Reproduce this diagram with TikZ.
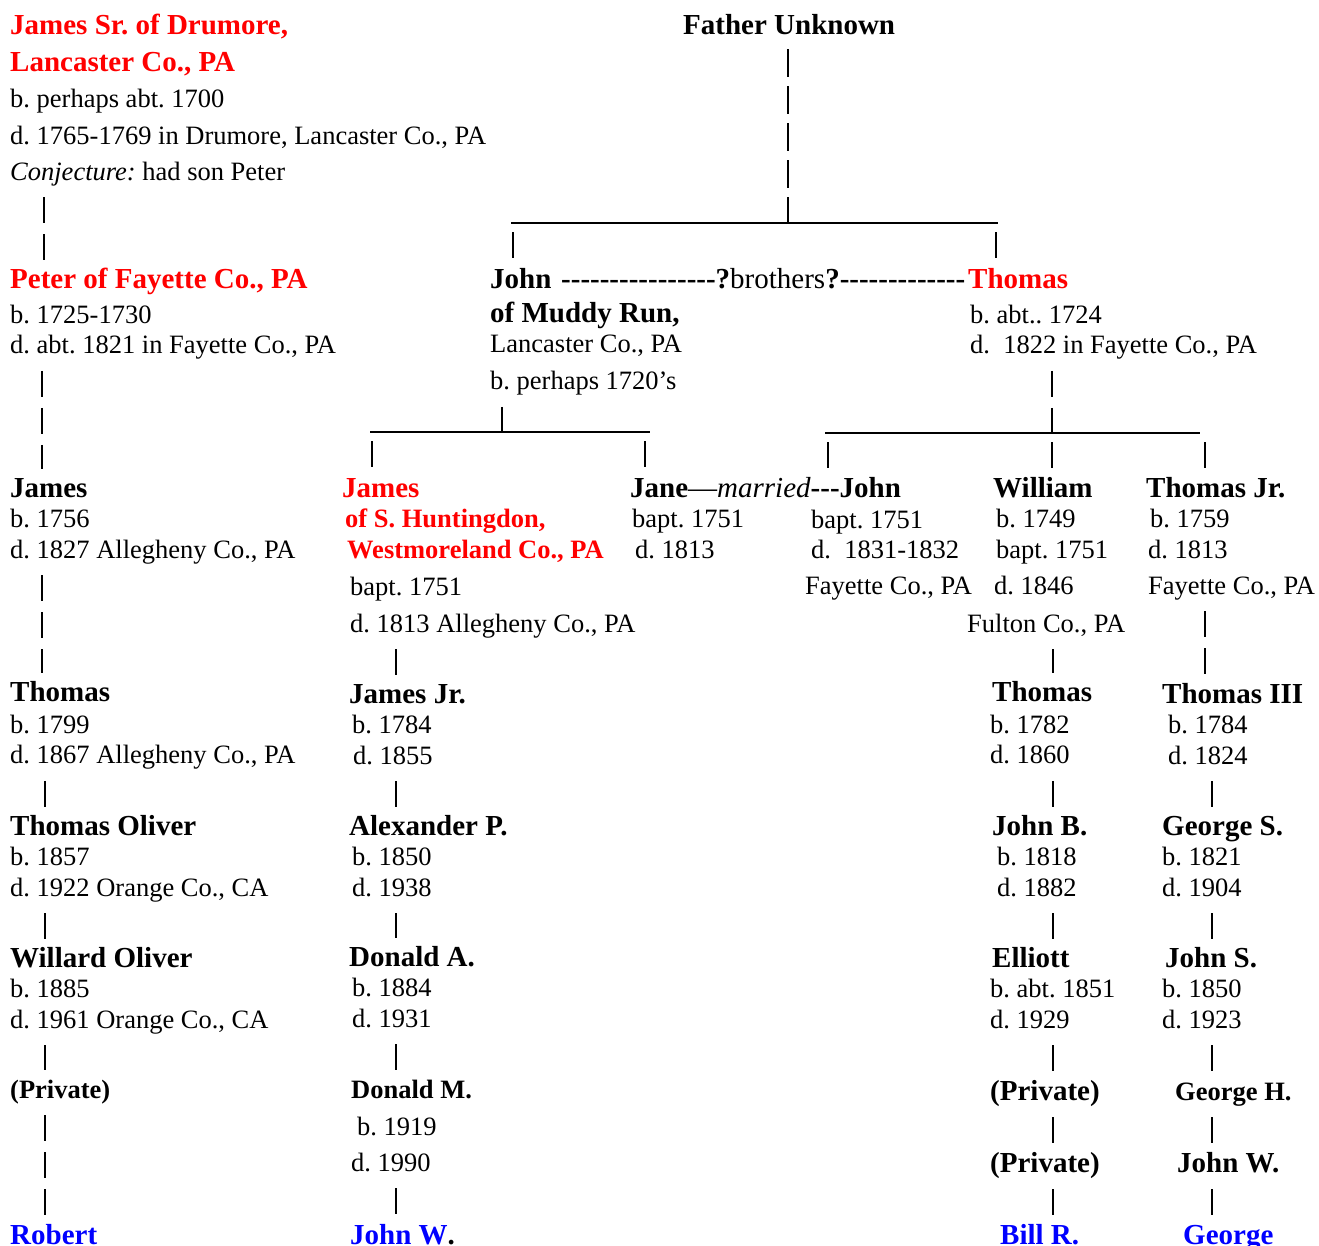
\documentclass[tikz,border=0pt]{standalone}
\usepackage{fontspec}
\setmainfont{Liberation Serif}
\frenchspacing

\newcommand\st{\vrule width 0pt height 21pt depth 8pt}
\newcommand\nm[1]{\st{\fontsize{29}{30.5}\selectfont\bfseries #1}}
\newcommand\nms[1]{\st{\bfseries #1}}
\newcommand\dashrun[1]{\foreach\k in {1,...,#1}{\mbox{-}}}

\tikzset{
  person/.style={anchor=north west, yshift=21pt, inner sep=0pt, align=left,
    font=\fontsize{26.5}{30.5}\selectfont},
  bars/.style={line width=1.6pt, dash pattern=on 26pt off 11pt,
    shorten <=9pt, shorten >=7pt},
  sibline/.style={line width=1.8pt}
}

\begin{document}
\begin{tikzpicture}[x=1pt,y=-1pt]
        \useasboundingbox (0,0) rectangle (1319,1245);

        % Step 1: the first generation
        \node[person] (jsr) at (10,34) {\nm{\color{red}James Sr. of Drumore,}\\[6.5pt]
          \nm{\color{red}Lancaster Co., PA}\\[5.5pt]
          b. perhaps abt. 1700\\[6.5pt]
          d. 1765-1769 in Drumore, Lancaster Co., PA\\[5.5pt]
          \textit{Conjecture:} had son Peter\st};
        \node[person] (fu) at (683,34) {\nm{Father Unknown}};

        % Step 2: Peter, John and Thomas
        \node[person] (peter) at (10,288) {\nm{\color{red}Peter of Fayette Co., PA}\\[4.5pt]
          b. 1725-1730\\
          d. abt. 1821 in Fayette Co., PA\st};
        \node[person] (john) at (490,288) {\nm{John}\\[3.5pt]
          \nm{of Muddy Run,}\\
          Lancaster Co., PA\\[6.5pt]
          b. perhaps 1720’s\st};
        \node[anchor=base west, inner sep=0pt, font=\fontsize{29}{30.5}\selectfont] (bro) at (561,288)
          {\textbf{\dashrun{16}?}brothers\textbf{?\dashrun{13}}};
        \node[person] (thomasT) at (968,288) {\nm{\color{red}Thomas}\\[4.5pt]
          \hspace*{2pt}b. abt.. 1724\\
          \hspace*{2pt}d.\ \ 1822 in Fayette Co., PA\st};

        % Step 3: the next generation
        \node[person] (jamesA) at (10,497) {\nm{James}\\
          b. 1756\\
          d. 1827 Allegheny Co., PA\st};
        \node[person] (jamesB) at (342,497) {\nm{\color{red}James}\\
          \hspace*{3pt}{\bfseries\color{red}of S. Huntingdon,}\\
          \hspace*{5pt}{\bfseries\color{red}Westmoreland Co., PA}\\[6.5pt]
          \hspace*{8pt}bapt. 1751\\[6.5pt]
          \hspace*{8pt}d. 1813 Allegheny Co., PA\st};
        \node[person] (jane) at (630,497) {\st{\fontsize{29}{30.5}\selectfont
          \textbf{Jane}—\textit{married}\textbf{\dashrun{3}John}}\\
          \hspace*{2pt}bapt. 1751\\
          \hspace*{5pt}d. 1813\st};
        \node[person] (johnM) at (805,528) {\st\hspace*{6pt}bapt. 1751\\
          \hspace*{6pt}d.\ \ 1831-1832\\[5.5pt]
          Fayette Co., PA\st};
        \node[person] (william) at (967,497) {\hspace*{26pt}\nm{William}\\
          \hspace*{29pt}b. 1749\\
          \hspace*{29pt}bapt. 1751\\[5.5pt]
          \hspace*{27pt}d. 1846\\[7.5pt]
          Fulton Co., PA\st};
        \node[person] (thomasJ) at (1146,497) {\nm{Thomas Jr.}\\
          \hspace*{4pt}b. 1759\\
          \hspace*{2pt}d. 1813\\[5.5pt]
          \hspace*{2pt}Fayette Co., PA\st};

        % Step 4: left column
        \node[person] (thomasA) at (10,701) {\nm{Thomas}\\[1.5pt]
          b. 1799\\
          d. 1867 Allegheny Co., PA\st};
        \node[person] (thomasO) at (10,835) {\nm{Thomas Oliver}\\
          b. 1857\\
          d. 1922 Orange Co., CA\st};
        \node[person] (willard) at (10,967) {\nm{Willard Oliver}\\
          b. 1885\\
          d. 1961 Orange Co., CA\st};
        \node[person] (privA) at (10,1098) {\nms{(Private)}};
        \node[person] (robert) at (10,1244) {\nm{\color{blue}Robert}};

        % Step 5: James' line
        \node[person] (jamesJr) at (349,703) {\nm{James Jr.}\\
          \hspace*{3pt}b. 1784\\
          \hspace*{4pt}d. 1855\st};
        \node[person] (alex) at (349,835) {\nm{Alexander P.}\\
          \hspace*{3pt}b. 1850\\
          \hspace*{3pt}d. 1938\st};
        \node[person] (donA) at (349,966) {\nm{Donald A.}\\
          \hspace*{3pt}b. 1884\\
          \hspace*{3pt}d. 1931\st};
        \node[person] (donM) at (351,1098) {\nms{Donald M.}\\[6.5pt]
          \hspace*{6pt}b. 1919\\[5.5pt]
          d. 1990\st};
        \node[person] (johnW) at (350,1244) {\nm{{\color{blue}John W}.}};

        % Step 6: William's line
        \node[person] (thomasW) at (990,701) {\hspace*{2pt}\nm{Thomas}\\[1.5pt]
          b. 1782\\
          d. 1860\st};
        \node[person] (johnB) at (990,835) {\hspace*{2pt}\nm{John B.}\\
          \hspace*{7pt}b. 1818\\
          \hspace*{7pt}d. 1882\st};
        \node[person] (elliott) at (990,967) {\hspace*{2pt}\nm{Elliott}\\
          b. abt. 1851\\
          d. 1929\st};
        \node[person] (privB) at (990,1100) {\nm{(Private)}};
        \node[person] (privC) at (990,1172) {\nm{(Private)}};
        \node[person] (bill) at (1000,1244) {\nm{\color{blue}Bill R.}};

        % Step 7: Thomas Jr.'s line
        \node[person] (thomas3) at (1162,703) {\nm{Thomas III}\\
          \hspace*{6pt}b. 1784\\
          \hspace*{6pt}d. 1824\st};
        \node[person] (georgeS) at (1162,835) {\nm{George S.}\\
          b. 1821\\
          d. 1904\st};
        \node[person] (johnS) at (1162,967) {\hspace*{3pt}\nm{John S.}\\
          b. 1850\\
          d. 1923\st};
        \node[person] (georgeH) at (1175,1100) {\nms{George H.}};
        \node[person] (johnW2) at (1177,1172) {\nm{John W.}};
        \node[person] (george) at (1183,1244) {\nm{\color{blue}George}};

        % Step 8: columns and sibling lines
        \coordinate (c1) at (44,0);
        \coordinate (c2) at (42,0);
        \coordinate (c3) at (45,0);
        \coordinate (c4) at (396,0);
        \coordinate (c5) at (1053,0);
        \coordinate (c6) at (1205,0);
        \coordinate (c7) at (1212,0);
        \coordinate (u1L) at (511,223); \coordinate (u1M) at (788,223); \coordinate (u1R) at (998,223);
        \coordinate (d1a) at (513,223); \coordinate (d1b) at (996,223);
        \coordinate (u2L) at (370,432); \coordinate (u2M) at (502,432); \coordinate (u2R) at (650,432);
        \coordinate (d2a) at (372,432); \coordinate (d2b) at (645,432);
        \coordinate (u3L) at (825,433); \coordinate (u3M) at (1052,433); \coordinate (u3R) at (1200,433);
        \coordinate (d3a) at (828,433); \coordinate (d3c) at (1205,433);

        % Step 9: draw the lines
        \draw[sibline] (u1L) -- (u1R);
        \draw[sibline] (u2L) -- (u2R);
        \draw[sibline] (u3L) -- (u3R);
        \draw[bars, dash pattern=on 28pt off 9pt, shorten <=7pt, shorten >=0pt] (fu.south -| u1M) -- (u1M);
        \draw[bars, shorten >=0pt] (john.south -| u2M) -- (u2M);
        \draw[bars, shorten >=0pt] (thomasT.south -| u3M) -- (u3M);
        \draw[bars] (d1a) -- (john.north -| d1a);
        \draw[bars] (d1b) -- (thomasT.north -| d1b);
        \draw[bars] (d2a) -- (jamesB.north -| d2a);
        \draw[bars] (d2b) -- (jane.north -| d2b);
        \draw[bars] (d3a) -- (jane.north -| d3a);
        \draw[bars] (u3M) -- (william.north -| u3M);
        \draw[bars] (d3c) -- (thomasJ.north -| d3c);

        \draw[bars] (jsr.south -| c1) -- (peter.north -| c1);
        \foreach \a/\b in {peter/jamesA, jamesA/thomasA}
          \draw[bars] (\a.south -| c2) -- (\b.north -| c2);
        \foreach \a/\b in {thomasA/thomasO, thomasO/willard, willard/privA, privA/robert}
          \draw[bars] (\a.south -| c3) -- (\b.north -| c3);
        \foreach \a/\b in {jamesB/jamesJr, jamesJr/alex, alex/donA, donA/donM, donM/johnW}
          \draw[bars] (\a.south -| c4) -- (\b.north -| c4);
        \foreach \a/\b in {william/thomasW, thomasW/johnB, johnB/elliott, elliott/privB, privB/privC, privC/bill}
          \draw[bars] (\a.south -| c5) -- (\b.north -| c5);
        \draw[bars] (thomasJ.south -| c6) -- (thomas3.north -| c6);
        \foreach \a/\b in {thomas3/georgeS, georgeS/johnS, johnS/georgeH, georgeH/johnW2, johnW2/george}
          \draw[bars] (\a.south -| c7) -- (\b.north -| c7);
\end{tikzpicture}
\end{document}
